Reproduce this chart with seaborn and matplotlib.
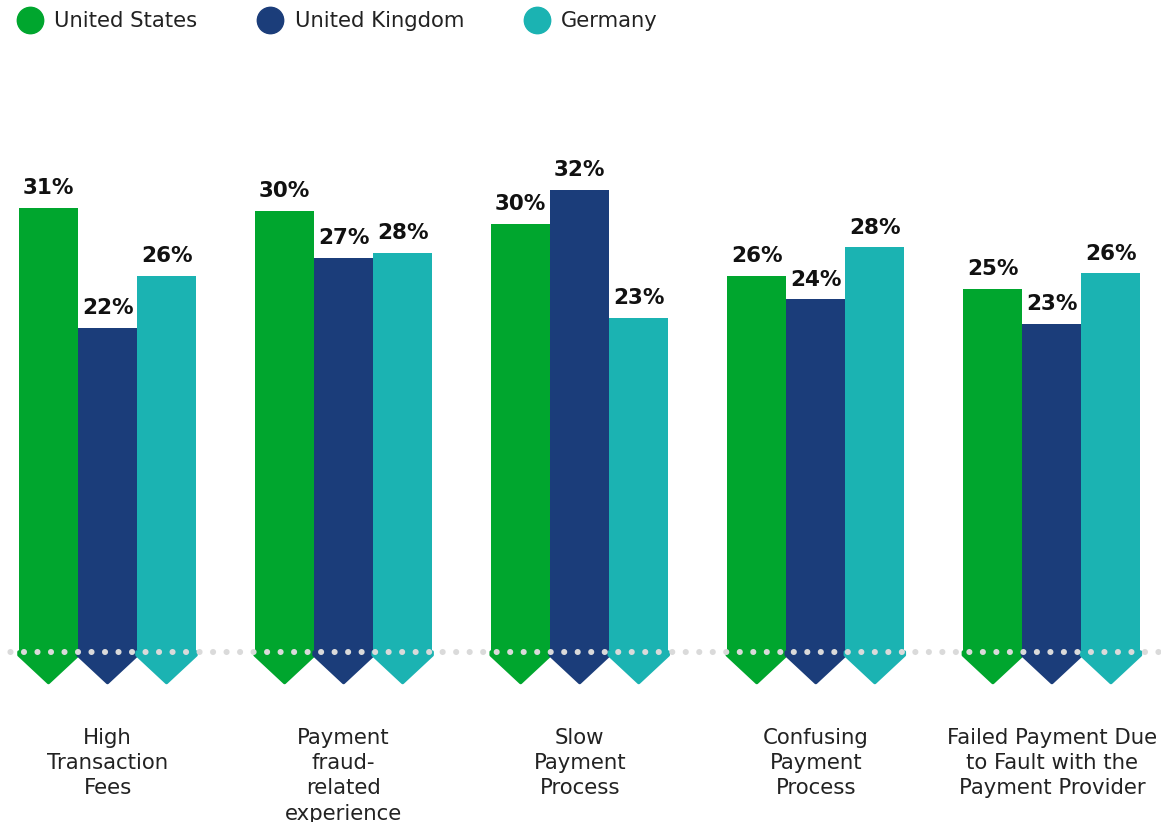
import pandas as pd
import matplotlib.pyplot as plt
import seaborn as sns
from matplotlib.lines import Line2D
from matplotlib.patches import Polygon

# values, labels as printed on the chart
categories = [
    "High\nTransaction\nFees",
    "Payment\nfraud-\nrelated\nexperience",
    "Slow\nPayment\nProcess",
    "Confusing\nPayment\nProcess",
    "Failed Payment Due\nto Fault with the\nPayment Provider",
]
countries = ["United States", "United Kingdom", "Germany"]
us_values = [30.7, 30.5, 29.6, 26.0, 25.1]
uk_values = [22.4, 27.3, 32.0, 24.4, 22.7]
de_values = [26.0, 27.6, 23.1, 28.0, 26.2]
us_labels = ["31%", "30%", "30%", "26%", "25%"]
uk_labels = ["22%", "27%", "32%", "24%", "23%"]
de_labels = ["26%", "28%", "23%", "28%", "26%"]
colors = ["#00a62e", "#1b3d7a", "#1bb3b2"]

sns.set_theme(style="white")
plt.rcParams["font.family"] = ["DejaVu Sans"]

df = pd.DataFrame({
    "category": categories * 3,
    "country": [c for c in countries for _ in categories],
    "value": us_values + uk_values + de_values,
    "label": us_labels + uk_labels + de_labels,
})

fig = plt.figure(figsize=(11.61, 8.22), dpi=100)
ax = fig.add_axes([0, 122 / 822, 1, 700 / 822])

sns.barplot(data=df, x="category", y="value", hue="country", hue_order=countries,
            palette=colors, width=0.75, saturation=1, legend=False, linewidth=0, ax=ax)

px_per_pct = 14.45
ax.set_xlim(-107.5 / 236.1, (1161 - 107.5) / 236.1)
ax.set_ylim(-48 / px_per_pct, 652 / px_per_pct)

# pixel scale of data units, for the arrow tips under each bar
p0 = ax.transData.transform((0, 0))
p1 = ax.transData.transform((1, 1))
sx, sy = p1[0] - p0[0], p1[1] - p0[1]

bars = list(ax.patches)
for bar, (_, row) in zip(bars, df.iterrows()):
    x0 = bar.get_x()
    w = bar.get_width()
    xc = x0 + w / 2
    v = 3 / sy
    dy = (w / 2) * sx / sy - 2 / sy
    tip = Polygon([(x0, 0), (x0, -v), (xc, -v - dy), (x0 + w, -v), (x0 + w, 0)],
                  closed=True, facecolor=bar.get_facecolor(), edgecolor=bar.get_facecolor(),
                  linewidth=2.5, joinstyle="round", clip_on=False, zorder=bar.get_zorder())
    ax.add_patch(tip)
    ax.annotate(row["label"], (xc, row["value"]), xytext=(0, 10), textcoords="offset points",
                ha="center", va="baseline", fontsize=15.5, fontweight="bold", color="#111111")

# dotted baseline
ax.axhline(0, color="#dadada", lw=4.4, linestyle=(0.5, (0.01, 2.2)),
           dash_capstyle="round", zorder=5)

ax.set_xlabel("")
ax.set_ylabel("")
ax.set_yticks([])
ax.tick_params(axis="x", length=0, pad=20, labelsize=15.3, labelcolor="#222222")
ax.set_xticks(range(len(categories)))
ax.set_xticklabels(categories, linespacing=1.33)
sns.despine(ax=ax, left=True, bottom=True)

handles = [Line2D([], [], marker="o", linestyle="", markersize=19, color=c) for c in colors]
ax.legend(handles, countries, loc="upper left", bbox_to_anchor=(0.015, 0.9866),
          bbox_transform=fig.transFigure, ncol=3, frameon=False, fontsize=15.2,
          borderaxespad=0, borderpad=0, handletextpad=0.55, columnspacing=2.85,
          handlelength=1.2, labelcolor="#222222")

fig.savefig("out.png", dpi=100)
